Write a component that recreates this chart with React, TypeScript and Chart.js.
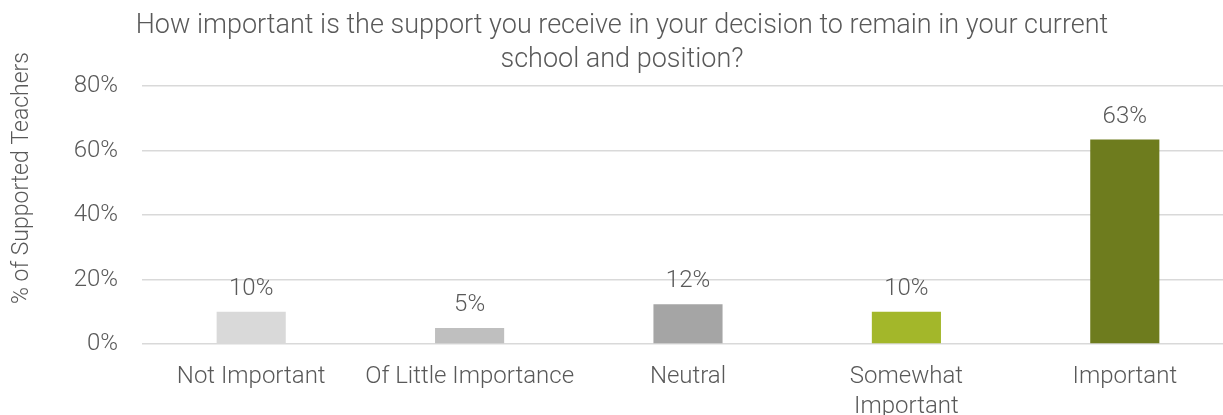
import React, { useEffect, useRef } from "react";
import { Chart, registerables } from "chart.js";

Chart.register(...registerables);

const categories: (string | string[])[] = [
  "Not Important",
  "Of Little Importance",
  "Neutral",
  ["Somewhat", "Important"],
  "Important",
];
const values = [10, 5, 12.3, 10, 63.4];
const barColors = ["#D9D9D9", "#BFBFBF", "#A5A5A5", "#A3B72A", "#6E7C1E"];
const titleLines = [
  "How important is the support you receive in your decision to remain in your current",
  "school and position?",
];
const yAxisTitle = "% of Supported Teachers";
const yMin = 0;
const yMax = 80;
const yStep = 20;

const FONT_FAMILY = "Roboto, 'Liberation Sans', sans-serif";
const TEXT_COLOR = "#595959";

const textPlugin = {
  id: "customText",
  afterDraw(chart: any) {
    const ctx = chart.ctx;
    ctx.save();
    ctx.fillStyle = TEXT_COLOR;
    // title
    ctx.font = `300 27px ${FONT_FAMILY}`;
    ctx.textAlign = "center";
    ctx.textBaseline = "alphabetic";
    titleLines.forEach((line, i) => {
      ctx.fillText(line, 622, 33 + i * 34);
    });
    // data labels
    ctx.font = `300 24px ${FONT_FAMILY}`;
    const meta = chart.getDatasetMeta(0);
    meta.data.forEach((bar: any, i: number) => {
      ctx.fillText(Math.round(values[i]) + "%", bar.x, bar.y - 17);
    });
    // y axis title
    ctx.font = `300 23px ${FONT_FAMILY}`;
    ctx.translate(22, 178);
    ctx.rotate(-Math.PI / 2);
    ctx.textBaseline = "middle";
    ctx.fillText(yAxisTitle, 0, 0);
    ctx.restore();
  },
};

export default function App() {
  const canvasRef = useRef<HTMLCanvasElement | null>(null);

  useEffect(() => {
    if (!canvasRef.current) return;
    const chart = new Chart(canvasRef.current, {
      type: "bar",
      data: {
        labels: categories as any,
        datasets: [
          {
            data: values,
            backgroundColor: barColors,
            borderWidth: 0,
            barPercentage: 0.3165,
            categoryPercentage: 1,
          },
        ],
      },
      options: {
        animation: false,
        responsive: false,
        maintainAspectRatio: false,
        layout: { padding: { top: 86, left: 0, right: 0, bottom: 0 } },
        plugins: {
          legend: { display: false },
          title: { display: false },
          tooltip: { enabled: false },
        },
        scales: {
          x: {
            grid: { display: false, drawTicks: false },
            border: { display: false },
            ticks: {
              color: TEXT_COLOR,
              font: { family: FONT_FAMILY, size: 24, weight: "300" as any, lineHeight: 1.25 },
              padding: 18,
              maxRotation: 0,
              autoSkip: false,
            },
            afterFit: (s: any) => {
              s.height = 71;
            },
          },
          y: {
            min: yMin,
            max: yMax,
            grid: { color: "#D9D9D9", lineWidth: 1.5, drawTicks: false },
            border: { display: false },
            ticks: {
              stepSize: yStep,
              color: TEXT_COLOR,
              font: { family: FONT_FAMILY, size: 24, weight: "300" as any },
              padding: 24,
              callback: (v: any) => v + "%",
            },
            afterFit: (s: any) => {
              s.width = 142;
            },
          },
        },
      },
      plugins: [textPlugin],
    });
    return () => chart.destroy();
  }, []);

  return (
    <div
      style={{
        position: "fixed",
        left: 0,
        top: 0,
        width: 1223,
        height: 415,
        overflow: "hidden",
        background: "#fff",
      }}
    >
      <canvas ref={canvasRef} width={1234} height={415} style={{ display: "block" }} />
    </div>
  );
}
